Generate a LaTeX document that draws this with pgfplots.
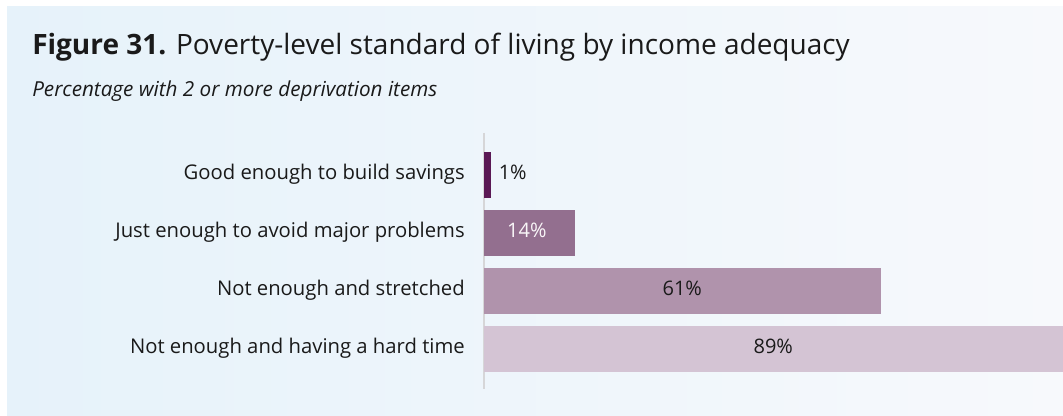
\documentclass[border=0pt]{standalone}
\usepackage{fontspec}
\setmainfont{Open Sans}
\usepackage{pgfplots}
\pgfplotsset{compat=1.18}
\definecolor{txt}{RGB}{26,26,26}
\definecolor{bgL}{RGB}{230,242,250}
\definecolor{bgR}{RGB}{247,249,252}
\definecolor{barA}{RGB}{90,24,84}
\definecolor{barB}{RGB}{147,111,143}
\definecolor{barC}{RGB}{176,147,172}
\definecolor{barD}{RGB}{212,196,212}
\definecolor{axln}{RGB}{214,214,216}
\begin{document}
\begin{tikzpicture}
\fill[white] (0,0) rectangle (797.25pt,-312pt);
\shade[left color=bgL, right color=bgR] (5.25pt,-5.25pt) rectangle (797.25pt,-312pt);
\node[anchor=base west, inner sep=0pt, text=txt, font=\fontsize{21pt}{25pt}\selectfont] at (24pt,-41.25pt) {\textbf{Figure 31.} Poverty-level standard of living by income adequacy};
\node[anchor=base west, inner sep=0pt, text=txt, font=\fontsize{15.5pt}{18pt}\selectfont\itshape] at (24pt,-72.75pt) {Percentage with 2 or more deprivation items};
\begin{axis}[
  at={(363pt,-291.75pt)}, anchor=south west,
  scale only axis, width=433.9pt, height=192pt,
  xmin=0, xmax=89, ymin=-0.724, ymax=3.69, y dir=reverse,
  axis x line=none, axis y line*=left,
  y axis line style={draw=axln, line width=1pt, -},
  xbar, bar width=34.5pt, bar shift=0pt,
  ytick={0,1,2,3}, major tick length=0pt,
  yticklabels={Good enough to build savings, Just enough to avoid major problems, Not enough and stretched, Not enough and having a hard time},
  yticklabel style={anchor=base east, inner sep=0pt, xshift=-14.25pt, yshift=-0.36em, text=txt, font=\fontsize{15.2pt}{18pt}\selectfont},
  clip=false,
  every node near coord/.append style={font=\fontsize{15pt}{18pt}\selectfont},
]
\addplot[draw=none, fill=barA] coordinates {(1,0)};
\addplot[draw=none, fill=barB] coordinates {(14,1)};
\addplot[draw=none, fill=barC] coordinates {(61,2)};
\addplot[draw=none, fill=barD] coordinates {(89,3)};
% value labels
\addplot[draw=none, mark=none, nodes near coords, point meta=explicit symbolic,
  nodes near coords style={anchor=base west, inner sep=0pt, xshift=6pt, yshift=-0.36em, text=txt}]
  coordinates {(1,0) [1\%]};
\addplot[draw=none, mark=none, nodes near coords, point meta=explicit symbolic,
  nodes near coords style={anchor=base, inner sep=0pt, xshift=-2pt, yshift=-0.36em, text=white!94!barB}]
  coordinates {(7,1) [14\%]};
\addplot[draw=none, mark=none, nodes near coords, point meta=explicit symbolic,
  nodes near coords style={anchor=base, inner sep=0pt, yshift=-0.36em, text=txt}]
  coordinates {(30.5,2) [61\%] (44.5,3) [89\%]};
\end{axis}
\pgfresetboundingbox
\path[use as bounding box] (0,0) rectangle (797.25pt,-312pt);
\end{tikzpicture}
\end{document}
